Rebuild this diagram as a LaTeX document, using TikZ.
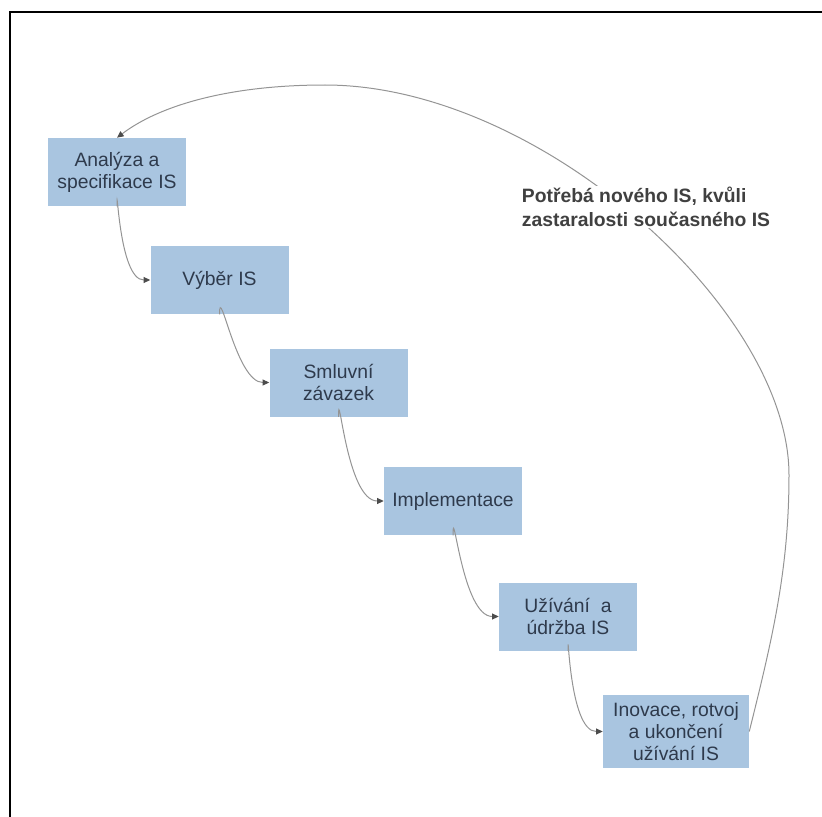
\documentclass[tikz,border=0pt]{standalone}
\usepackage{fontspec}
\setmainfont{Liberation Sans}
\usetikzlibrary{arrows.meta}
\definecolor{boxblue}{RGB}{169,197,224}
\definecolor{boxtext}{RGB}{46,58,76}
\tikzset{
  stage/.style={fill=boxblue, text=boxtext, align=center, minimum width=103.5pt, minimum height=51pt, inner sep=2pt, font=\fontsize{14.5}{16.5}\selectfont},
  flow/.style={draw=black!42, line width=0.75pt, -{Triangle[length=5pt,width=4.5pt,color=black!70]}},
}
\begin{document}
\begin{tikzpicture}[x=0.75pt,y=0.75pt,yscale=-1,xscale=1]
            \useasboundingbox (0,0) rectangle (822,817);
            % frame
            \draw [line width=1.1pt]   (10,817) -- (10,12) -- (822,12) ;
            % stages
            \node [stage] (anal) at (117,172) {Analýza a\\specifikace IS};
            \node [stage] (vyber) at (219.5,280) {Výběr IS};
            \node [stage] (smlouva) at (338.5,382.5) {Smluvní\\závazek};
            \node [stage] (impl) at (453,501) {Implementace};
            \node [stage] (uziv) at (568,616.5) {Užívání~ a\\údržba IS};
            \node [stage, minimum width=109.5pt, minimum height=54.75pt] (inov) at (676,731.5) {Inovace, rotvoj\\a ukončení\\užívání IS};
            % flow
            \draw [flow] (anal.south) to[out=-90,in=180] (vyber.west);
            \draw [flow] (vyber.south) to[out=-90,in=180] (smlouva.west);
            \draw [flow] (smlouva.south) to[out=-90,in=180] (impl.west);
            \draw [flow] (impl.south) to[out=-90,in=180] (uziv.west);
            \draw [flow] (uziv.south) to[out=-90,in=180] (inov.west);
            % back arc
            \coordinate (arcright) at (789,475);
            \coordinate (arctop) at (325,85);
            \draw [flow] (inov.east) .. controls (772,640) and (789,570) .. (arcright)
                .. controls (789,310) and (540,85) .. (arctop)
                .. controls (230,85) and (160,105) .. (anal.north);
            \node [fill=white, text=black!75, align=left, inner sep=1pt, font=\bfseries\fontsize{14.5}{18}\selectfont] (need) at (646,207) {Potřebá nového IS, kvůli\\zastaralosti současného IS};
\end{tikzpicture}
\end{document}
